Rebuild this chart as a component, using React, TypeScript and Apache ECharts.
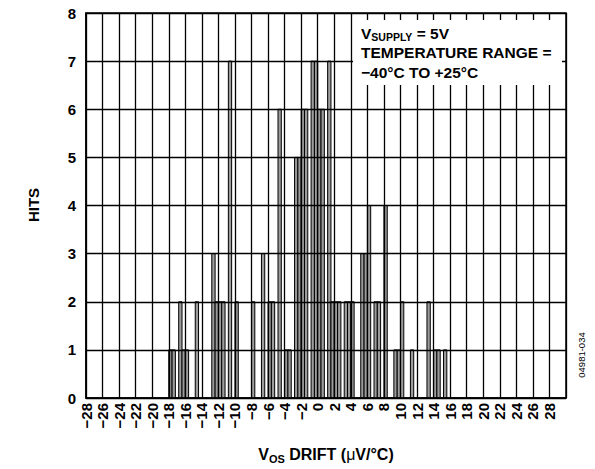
import React, { useEffect, useRef } from "react";
import * as echarts from "echarts";

// Histogram bins (0.4 µV/°C wide), centre of each bin and number of hits
const binCenters = [
  -17.8, -17.4, -16.6, -16.2, -15.8, -14.6, -12.6, -12.2, -11.8, -11.4,
  -10.6, -9.8, -7.8, -6.6, -5.8, -5.4, -4.6, -3.8, -3.4, -2.6,
  -2.2, -1.8, -1.4, -0.6, -0.2, 0.2, 0.6, 1.4, 1.8, 2.2,
  2.6, 3.4, 3.8, 4.2, 5.4, 5.8, 6.2, 7.0, 7.4, 8.2,
  9.4, 9.8, 10.2, 11.4, 13.4, 14.2, 14.6, 15.4,
];
const hits = [
  1, 1, 2, 1, 1, 2, 3, 2, 2, 2,
  7, 2, 2, 3, 2, 2, 6, 1, 1, 5,
  5, 6, 6, 7, 7, 6, 6, 7, 2, 2,
  2, 2, 2, 2, 3, 3, 4, 2, 2, 4,
  1, 1, 2, 1, 2, 1, 1, 1,
];
const binWidth = 0.4;

const xTickLabels = [
  "\u221228", "\u221226", "\u221224", "\u221222", "\u221220", "\u221218", "\u221216", "\u221214",
  "\u221212", "\u221210", "\u22128", "\u22126", "\u22124", "\u22122", "0", "2", "4", "6", "8",
  "10", "12", "14", "16", "18", "20", "22", "24", "26", "28",
];
const yTickLabels = ["0", "1", "2", "3", "4", "5", "6", "7", "8"];

const FONT = "'Liberation Sans', Arial, Helvetica, sans-serif";

export default function App() {
  const ref = useRef<HTMLDivElement>(null);

  useEffect(() => {
    const chart = echarts.init(ref.current!, null, { renderer: "svg" });
    chart.setOption({
      animation: false,
      backgroundColor: "#fff",
      textStyle: { fontFamily: FONT },
      grid: {
        left: 86,
        right: 29,
        top: 13,
        bottom: 71,
        show: true,
        borderColor: "#000",
        borderWidth: 1.5,
        backgroundColor: "#fff",
      },
      xAxis: {
        type: "value",
        min: -28,
        max: 30,
        interval: 2,
        z: 3,
        axisLine: { show: true, onZero: false, lineStyle: { color: "#000", width: 1.5 } },
        axisTick: { show: false },
        splitLine: { show: true, lineStyle: { color: "#000", width: 1.3 } },
        axisLabel: {
          rotate: 90,
          margin: 5,
          fontSize: 15,
          fontWeight: "bold",
          color: "#000",
          fontFamily: FONT,
          formatter: (v: number) => xTickLabels[Math.round((v + 28) / 2)] ?? "",
        },
      },
      yAxis: {
        type: "value",
        min: 0,
        max: 8,
        interval: 1,
        z: 3,
        axisLine: { show: true, onZero: false, lineStyle: { color: "#000", width: 1.5 } },
        axisTick: { show: false },
        splitLine: { show: true, lineStyle: { color: "#000", width: 1.3 } },
        axisLabel: {
          margin: 10,
          fontSize: 15,
          fontWeight: "bold",
          color: "#000",
          fontFamily: FONT,
          formatter: (v: number) => yTickLabels[Math.round(v)] ?? "",
        },
      },
      series: [
        {
          type: "custom",
          z: 2,
          encode: { x: 0, y: 1 },
          data: binCenters.map((c, i) => [c, hits[i]]),
          renderItem: (_params: any, api: any) => {
            const x = api.value(0);
            const h = api.value(1);
            const p0 = api.coord([x - binWidth / 2, h]);
            const p1 = api.coord([x + binWidth / 2, 0]);
            return {
              type: "rect",
              shape: { x: p0[0], y: p0[1], width: p1[0] - p0[0], height: p1[1] - p0[1] },
              style: { fill: "#9c9c9c", stroke: "#000", lineWidth: 1 },
            };
          },
        },
      ],
      graphic: [
        {
          type: "text",
          x: 33,
          y: 205,
          rotation: Math.PI / 2,
          style: {
            text: "HITS",
            fontSize: 15,
            fontWeight: "bold",
            fontFamily: FONT,
            fill: "#000",
            align: "center",
            verticalAlign: "middle",
          },
        },
        {
          type: "text",
          x: 326,
          y: 454,
          style: {
            text: "{v|V}{s|OS}{b| DRIFT (}{m|\u03bc}{b|V/\u00b0C)}",
            align: "center",
            verticalAlign: "middle",
            fill: "#000",
            rich: {
              v: { fontSize: 16, fontWeight: "bold", fontFamily: FONT, lineHeight: 20 },
              s: { fontSize: 11, fontWeight: "bold", fontFamily: FONT, lineHeight: 11, verticalAlign: "bottom" },
              b: { fontSize: 16, fontWeight: "bold", fontFamily: FONT, lineHeight: 20 },
              m: { fontSize: 16, fontWeight: "normal", fontFamily: FONT, lineHeight: 20 },
            },
          },
        },
        {
          type: "rect",
          z: 10,
          shape: { x: 353, y: 20, width: 209, height: 65 },
          style: { fill: "#fff", stroke: null },
        },
        {
          type: "text",
          z: 11,
          x: 361,
          y: 33,
          style: {
            text: "{b|V}{s|SUPPLY}{b| = 5V}",
            align: "left",
            verticalAlign: "middle",
            fill: "#000",
            rich: {
              b: { fontSize: 15.5, fontWeight: "bold", fontFamily: FONT, lineHeight: 19 },
              s: { fontSize: 10.5, fontWeight: "bold", fontFamily: FONT, lineHeight: 10, verticalAlign: "bottom" },
            },
          },
        },
        {
          type: "text",
          z: 11,
          x: 361,
          y: 52,
          style: {
            text: "TEMPERATURE RANGE =",
            fontSize: 15.5,
            fontWeight: "bold",
            fontFamily: FONT,
            fill: "#000",
            align: "left",
            verticalAlign: "middle",
          },
        },
        {
          type: "text",
          z: 11,
          x: 361,
          y: 72,
          style: {
            text: "\u221240\u00b0C TO +25\u00b0C",
            fontSize: 15.5,
            fontWeight: "bold",
            fontFamily: FONT,
            fill: "#000",
            align: "left",
            verticalAlign: "middle",
          },
        },
        {
          type: "text",
          x: 581,
          y: 355,
          rotation: Math.PI / 2,
          style: {
            text: "04981-034",
            fontSize: 9.5,
            fontFamily: FONT,
            fill: "#000",
            align: "center",
            verticalAlign: "middle",
          },
        },
      ],
    });
    return () => chart.dispose();
  }, []);

  return (
    <div
      ref={ref}
      style={{ position: "absolute", left: 0, top: 0, width: 595, height: 469 }}
    />
  );
}
